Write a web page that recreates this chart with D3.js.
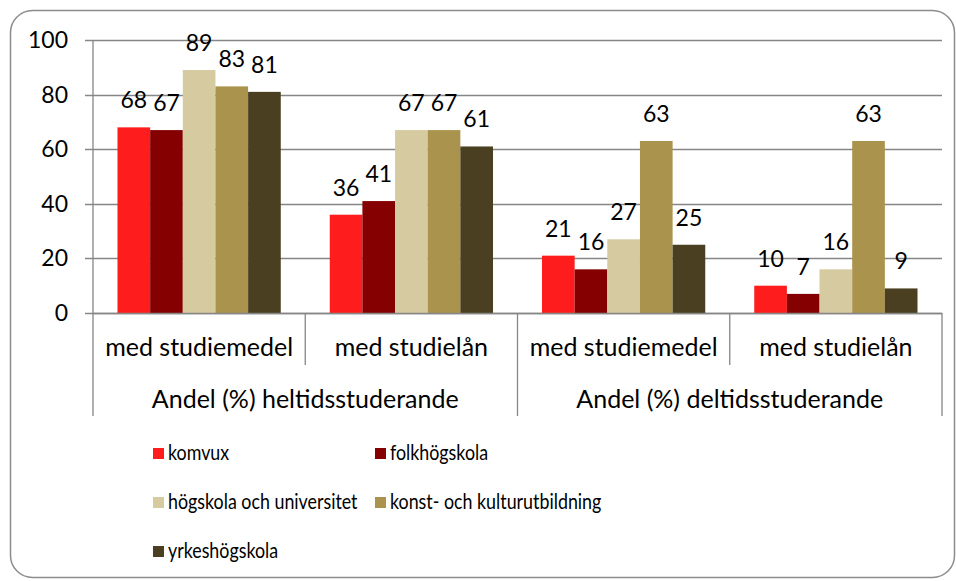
<!DOCTYPE html>
<meta charset="utf-8">
<style>
  body { margin: 0; background: #fff; }
  text { font-family: Lato, "Open Sans", sans-serif; fill: #000; }
</style>
<svg width="956" height="581"></svg>
<script src="https://cdn.jsdelivr.net/npm/d3@7"></script>
<script>
  // categories (two levels) and series
  var groups = ['Andel (%) heltidsstuderande', 'Andel (%) deltidsstuderande']
  var subCats = ['med studiemedel', 'med studielån', 'med studiemedel', 'med studielån']
  var series = ['komvux', 'folkhögskola', 'högskola och universitet', 'konst- och kulturutbildning', 'yrkeshögskola']
  var colors = ['#ff1c1c', '#850000', '#d6caa0', '#aa934c', '#4a3f21']

  // one value per series for each of the 4 sub categories
  var komvux = [68, 36, 21, 10]
  var folkhogskola = [67, 41, 16, 7]
  var hogskola = [89, 67, 27, 16]
  var konst = [83, 67, 63, 63]
  var yrkes = [81, 61, 25, 9]
  var values = [komvux, folkhogskola, hogskola, konst, yrkes]

  var yTicks = [0, 20, 40, 60, 80, 100]

  var svg = d3.select('svg')

  var plotL = 93, plotR = 942, plotT = 40, plotB = 313

  // rounded outer frame
  svg.append('rect')
    .attr('x', 10.5).attr('y', 10.5)
    .attr('width', 944).attr('height', 567)
    .attr('rx', 22)
    .attr('fill', 'none')
    .attr('stroke', '#8c8c8c')
    .attr('stroke-width', 1.5)

  var y = d3.scaleLinear().domain([0, 100]).range([plotB, plotT])
  var x0 = d3.scaleBand().domain(d3.range(subCats.length)).range([plotL, plotR])
  var x1 = d3.scaleBand().domain(d3.range(series.length))
    .range([0, x0.bandwidth()])
    .paddingInner(0).paddingOuter(0.75)

  // gridlines + tick marks
  svg.append('g').selectAll('line')
    .data(yTicks)
    .enter().append('line')
    .attr('x1', plotL - 8).attr('x2', plotR)
    .attr('y1', d => Math.round(y(d)) + 0.5)
    .attr('y2', d => Math.round(y(d)) + 0.5)
    .attr('stroke', '#868686')
    .attr('stroke-width', 1.3)

  svg.append('g').selectAll('text')
    .data(yTicks)
    .enter().append('text')
    .attr('x', 68)
    .attr('y', d => y(d) + 8)
    .attr('text-anchor', 'end')
    .attr('font-size', 23)
    .text(d => d)

  // bars
  var bars = []
  values.forEach(function (vals, s) {
    vals.forEach(function (v, c) { bars.push({ s: s, c: c, v: v }) })
  })

  svg.append('g').selectAll('rect')
    .data(bars)
    .enter().append('rect')
    .attr('x', d => x0(d.c) + x1(d.s))
    .attr('width', x1.bandwidth())
    .attr('y', d => y(d.v))
    .attr('height', d => y(0) - y(d.v))
    .attr('fill', d => colors[d.s])

  svg.append('g').selectAll('text')
    .data(bars)
    .enter().append('text')
    .attr('x', d => x0(d.c) + x1(d.s) + x1.bandwidth() / 2)
    .attr('y', d => y(d.v) - 19)
    .attr('text-anchor', 'middle')
    .attr('font-size', 23)
    .text(d => d.v)

  // category axis
  var axis = svg.append('g').attr('stroke', '#868686').attr('stroke-width', 1.3)
  axis.append('line')
    .attr('x1', plotL).attr('x2', plotR)
    .attr('y1', plotB + 0.5).attr('y2', plotB + 0.5)
  axis.append('line')
    .attr('x1', plotL).attr('x2', plotL)
    .attr('y1', plotT).attr('y2', plotB)
  // sub category dividers
  axis.selectAll('.sub')
    .data(d3.range(1, subCats.length, 2))
    .enter().append('line')
    .attr('x1', d => x0(d)).attr('x2', d => x0(d))
    .attr('y1', plotB).attr('y2', 365)
  // group dividers
  axis.selectAll('.grp')
    .data([0, 2, 4])
    .enter().append('line')
    .attr('x1', d => d < 4 ? x0(d) : plotR).attr('x2', d => d < 4 ? x0(d) : plotR)
    .attr('y1', plotB).attr('y2', 416)

  svg.append('g').selectAll('text')
    .data(subCats)
    .enter().append('text')
    .attr('x', (d, i) => x0(i) + x0.bandwidth() / 2)
    .attr('y', 356)
    .attr('text-anchor', 'middle')
    .attr('font-size', 25)
    .text(d => d)

  svg.append('g').selectAll('text')
    .data(groups)
    .enter().append('text')
    .attr('x', (d, i) => x0(i * 2) + x0.bandwidth())
    .attr('y', 408)
    .attr('text-anchor', 'middle')
    .attr('font-size', 25)
    .text(d => d)

  // legend
  var legend = svg.append('g').selectAll('g')
    .data(series)
    .enter().append('g')
    .attr('transform', (d, i) => 'translate(' + (153 + (i % 2) * 222) + ',' + (448 + Math.floor(i / 2) * 49) + ')')
  legend.append('rect')
    .attr('width', 11).attr('height', 11)
    .attr('fill', (d, i) => colors[i])
  legend.append('text')
    .attr('transform', 'translate(15,12) scale(0.85,1)')
    .attr('font-size', 21)
    .text(d => d)
</script>
